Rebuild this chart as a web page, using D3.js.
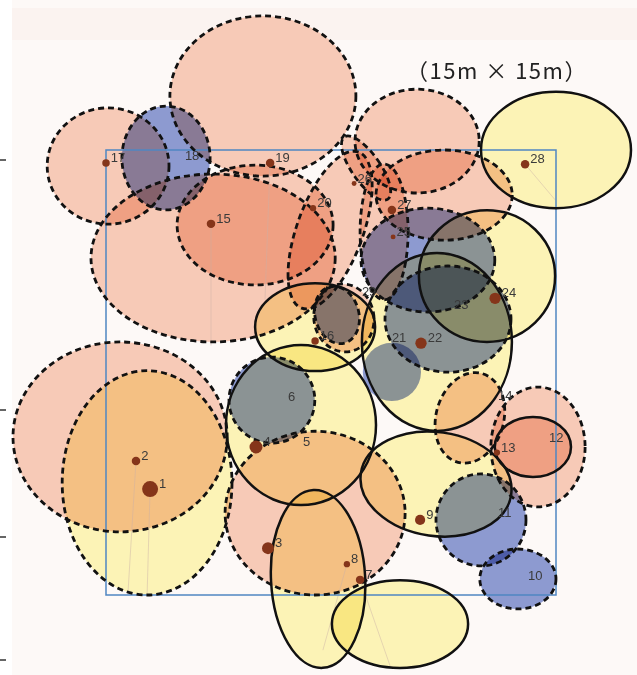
<!DOCTYPE html>
<html><head><meta charset="utf-8">
<script src="https://cdn.jsdelivr.net/npm/d3@7"></script>
<style>html,body{margin:0;padding:0;background:#fff;}svg{display:block;}</style>
</head><body>
<svg id="chart" width="637" height="675"></svg>
<script>
// ---- data (metres, plot is 15m x 15m) ----
const plotSize = [0, 15];
const titleText = "（15m × 15m）";
// crowns
const crownName  = ["17","18","19","15a","15","20","26","26b","27b","27","25","23","16","29p","21","6","2","1","3","14","13","11","10","28","24","22","29","5","9","12","8","7"];
const crownX     = [0.07,2.00,5.23,3.57,4.97,7.47,8.67,10.37,11.27,9.27,10.73,11.40,7.70,7.93,9.53,5.53,0.47,1.37,6.97,12.13,14.40,12.50,13.73,15.00,12.70,11.03,6.97,6.50,11.00,14.23,7.07,9.80];
const crownY     = [14.46,14.73,16.82,11.36,12.47,12.30,14.39,15.30,13.48,12.24,11.29,9.30,9.44,9.34,7.52,6.57,5.33,3.78,2.76,5.97,4.99,2.53,0.54,15.00,10.75,8.53,9.03,5.73,3.74,4.99,0.54,-0.98];
const crownRX    = [2.03,1.47,3.10,4.07,2.60,1.10,0.47,2.07,2.27,0.80,2.23,2.10,0.73,1.00,0.97,1.43,3.57,2.83,3.00,1.13,1.57,1.50,1.27,2.50,2.27,2.50,2.00,2.50,2.53,1.27,1.57,2.27];
const crownRY    = [1.96,1.75,2.70,2.83,2.02,2.80,1.28,1.75,1.52,2.29,1.75,1.79,0.98,1.15,0.98,1.45,3.20,3.78,2.76,1.55,2.02,1.55,1.01,1.96,2.22,3.00,1.48,2.70,1.75,1.01,3.00,1.48];
const crownTilt  = [0,0,0,0,0,20,-35,0,0,0,0,0,-15,-10,0,0,0,0,0,15,0,0,0,0,0,0,0,0,8,0,-3,0];
const crownKind  = ["pink","blue","pink","pink","pink","pink","pink","pink","pink","pink","blue","blue","blue","pink","blue","blue","pink","yellow","pink","pink","pink","blue","blue","yellow","yellow","yellow","yellow","yellow","yellow","pink","yellow","yellow"];
const crownLine  = ["dash","dash","dash","dash","dash","dash","dash","dash","dash","dash","dash","dash","dash","dash","none","dash","dash","dash","dash","dash","dash","dash","dash","solid","solid","solid","solid","solid","solid","solid","solid","solid"];
// stems
const treeNo  = [1,2,3,4,5,6,7,8,9,10,11,12,13,14,15,16,17,18,19,20,21,22,23,24,25,26,27,28,29];
const treeX   = [1.47,1.00,5.40,5.00,6.47,5.97,8.47,8.03,10.47,13.97,12.97,14.67,13.03,12.97,3.50,6.97,0.00,2.53,5.47,6.90,9.43,10.50,11.50,12.97,9.57,8.27,9.53,13.97,8.43];
const treeY   = [3.57,4.52,1.58,4.99,4.99,6.50,0.51,1.04,2.53,0.47,2.60,5.13,4.80,6.54,12.51,8.56,14.56,14.63,14.56,13.04,8.49,8.49,9.59,10.00,12.07,13.87,12.98,14.52,10.03];
const treeDbh = [64,18,36,42,0,0,18,10,26,0,0,0,10,0,18,14,14,0,18,10,0,32,0,32,6,6,18,18,0];
// stem lean lines (dx, dy in metres)
const leanTree = [1,2,15,19,7,8,28];
const leanDX   = [-0.10,-0.27,0.00,-0.17,1.00,-0.80,1.00];
const leanDY   = [-3.57,-4.50,-4.10,-4.60,-2.90,-2.90,-1.20];
// left-edge ticks of the neighbouring panel (page y)
const edgeTicks = [160, 410, 537, 660];

// ---- drawing ----
const svg = d3.select("#chart");
const W = 637, H = 675;
const xS = d3.scaleLinear().domain(plotSize).range([106, 556]);
const yS = d3.scaleLinear().domain(plotSize).range([595, 150]);
const kx = xS(1) - xS(0), ky = yS(0) - yS(1);
const fillOf = d3.scaleOrdinal().domain(["pink","yellow","blue"]).range(["#f7cab7","#fcf3b6","#8d9ad0"]);
const rScale = d3.scaleSqrt().domain([0, 64]).range([0, 8]);

svg.append("rect").attr("x",0).attr("y",0).attr("width",W).attr("height",H).attr("fill","#ffffff");
svg.append("rect").attr("x",12).attr("y",0).attr("width",W-12).attr("height",H).attr("fill","#fdf9f7");
svg.append("rect").attr("x",12).attr("y",8).attr("width",W-12).attr("height",32).attr("fill","#fbf3f0");

svg.append("g").selectAll("line").data(edgeTicks).join("line")
  .attr("x1",0).attr("x2",6).attr("y1",d=>d).attr("y2",d=>d)
  .attr("stroke","#333").attr("stroke-width",1.5);

const crowns = crownName.map((n,i)=>({n, x:crownX[i], y:crownY[i], rx:crownRX[i], ry:crownRY[i], t:crownTilt[i], k:crownKind[i], l:crownLine[i]}));
const tf = d => `translate(${xS(d.x)},${yS(d.y)}) rotate(${d.t})`;

const gFill = svg.append("g").style("isolation","isolate");
gFill.selectAll("ellipse").data(crowns).join("ellipse")
  .attr("transform", tf).attr("rx", d=>d.rx*kx).attr("ry", d=>d.ry*ky)
  .attr("fill", d=>fillOf(d.k)).style("mix-blend-mode","multiply");

// lean lines
svg.append("g").selectAll("line").data(leanTree).join("line")
  .attr("x1",(t)=>xS(treeX[t-1])).attr("y1",(t)=>yS(treeY[t-1]))
  .attr("x2",(t,i)=>xS(treeX[t-1]+leanDX[i])).attr("y2",(t,i)=>yS(treeY[t-1]+leanDY[i]))
  .attr("stroke","#c9b0a6").attr("stroke-opacity",0.45).attr("stroke-width",1);

// plot frame
svg.append("rect").attr("x",xS(0)).attr("y",yS(15)).attr("width",xS(15)-xS(0)).attr("height",yS(0)-yS(15))
  .attr("fill","none").attr("stroke","#4f86c2").attr("stroke-width",1.5);

// outlines
svg.append("g").selectAll("ellipse").data(crowns.filter(d=>d.l!=="none")).join("ellipse")
  .attr("transform", tf).attr("rx", d=>d.rx*kx).attr("ry", d=>d.ry*ky)
  .attr("fill","none").attr("stroke","#111")
  .attr("stroke-width", d=>d.l==="dash"?2.8:2.5)
  .attr("stroke-dasharray", d=>d.l==="dash"?"6 4":null);

// stems and labels
const trees = treeNo.map((n,i)=>({n, x:treeX[i], y:treeY[i], r:rScale(treeDbh[i])}));
svg.append("g").selectAll("circle").data(trees.filter(d=>d.r>0)).join("circle")
  .attr("cx",d=>xS(d.x)).attr("cy",d=>yS(d.y)).attr("r",d=>d.r).attr("fill","#85351a");
svg.append("g").selectAll("text").data(trees).join("text")
  .attr("x",d=>xS(d.x)+Math.max(d.r,2)+1).attr("y",d=>yS(d.y)-1)
  .attr("font-family","'Liberation Sans Narrow','Arial Narrow','Liberation Sans',sans-serif")
  .attr("font-size",13).attr("fill","#3a3a3a").text(d=>d.n);

svg.append("text").attr("x",406).attr("y",79)
  .attr("font-family","'Noto Sans CJK JP','Noto Sans',sans-serif").attr("font-size",22)
  .attr("letter-spacing",1.5)
  .attr("fill","#222").text(titleText);
</script>
</body></html>
